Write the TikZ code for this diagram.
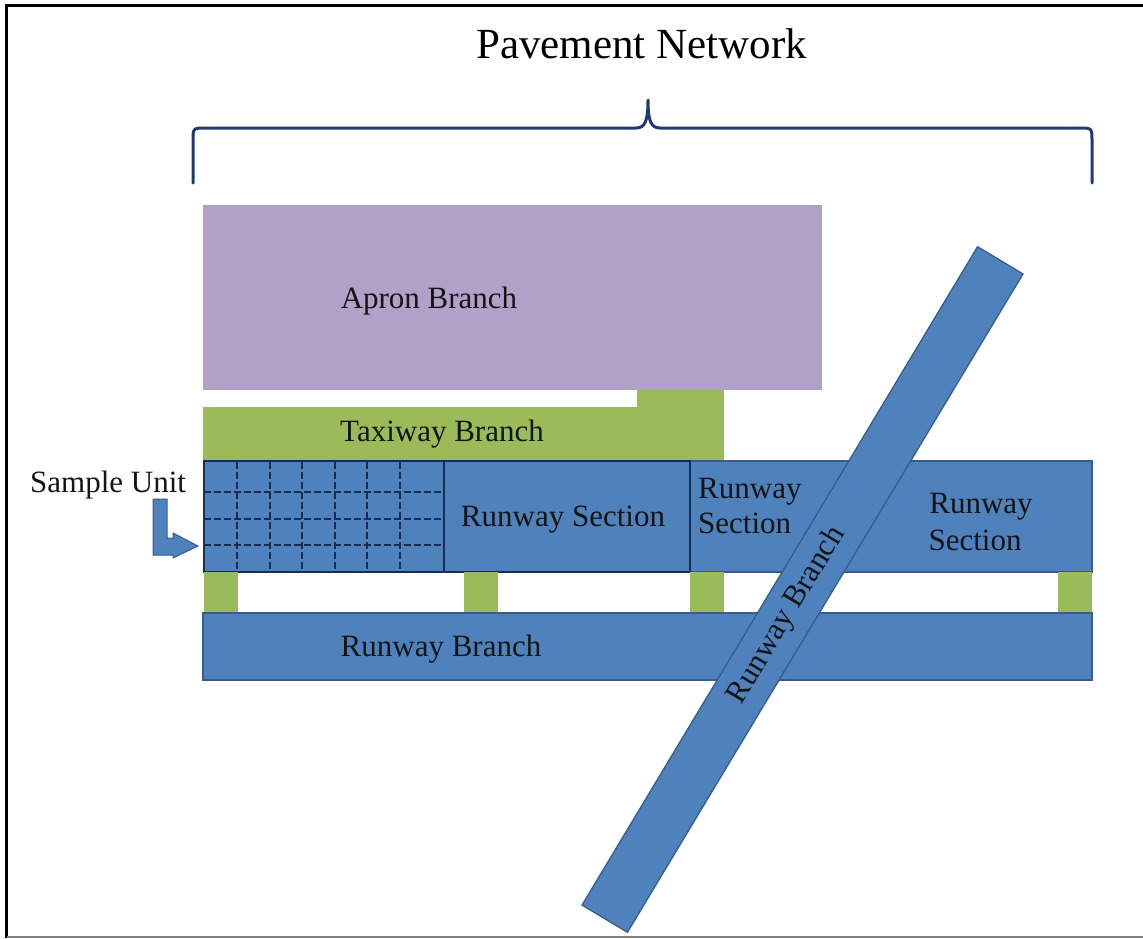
\documentclass[tikz,border=0pt]{standalone}
\usepackage{fontspec}
\setmainfont{Liberation Serif}
\definecolor{rwblue}{HTML}{4F81BD}
\definecolor{rwedge}{HTML}{385D8A}
\definecolor{navy}{HTML}{132F55}
\definecolor{apron}{HTML}{B1A0C7}
\definecolor{taxi}{HTML}{9BBB59}
\definecolor{bracec}{HTML}{1F3A6E}
\definecolor{ink}{HTML}{141414}
\tikzset{
  runway/.style={fill=rwblue, draw=rwedge, line width=1.3pt},
  sectionbox/.style={draw=navy, line width=2.4pt},
  taxifill/.style={fill=taxi},
  gridline/.style={draw=navy, line width=2pt, dash pattern=on 7pt off 3pt},
  lbl/.style={text=ink, font=\fontsize{31}{35}\selectfont, inner sep=0pt},
}
\begin{document}
\begin{tikzpicture}[x=1pt,y=-1pt]
\useasboundingbox (0,0) rectangle (1143,938);
% frame
\draw[line width=3pt] (6.5,938) -- (6.5,5.5) -- (1143,5.5);
\draw[gray, line width=2pt] (6.5,937) -- (1143,937);

% title and brace
\node[lbl, font=\fontsize{43}{48}\selectfont, text=black, anchor=base] (title) at (641.5,58) {Pavement Network};
\draw[bracec, line width=3pt, line cap=round, line join=round]
  (193,183) -- (193,141) .. controls (193,128) .. (206,128) -- (636,128)
  .. controls (645,128) and (648,121) .. (648,100)
  .. controls (648,121) and (651,128) .. (660,128) -- (1079,128)
  .. controls (1092,128) .. (1092,141) -- (1092,183);

% apron branch and its link to the taxiway
\fill[apron] (203,205) rectangle (822,390);
\node[lbl, anchor=base] (apronlbl) at (429,308) {Apron Branch};
\fill[taxifill] (637,390) rectangle (724,408);
\fill[taxifill] (203,407) rectangle (724,461);
\node[lbl, anchor=base] (taxilbl) at (442,441) {Taxiway Branch};

% runway section row
\filldraw[runway] (204,461) rectangle (1092,572);
% sample unit grid
\foreach \x in {237,270,302,335,367,400}
  \draw[gridline] (\x,462) -- (\x,572);
\foreach \y in {492,519,545}
  \draw[gridline] (204,\y) -- (444,\y);
\draw[sectionbox] (204,461) rectangle (444,572);
\draw[sectionbox] (444,461) rectangle (690,572);
\node[lbl, anchor=base] (sec1) at (563,526) {Runway Section};
\node[lbl, anchor=base west] (sec2a) at (698,498) {Runway};
\node[lbl, anchor=base west] (sec2b) at (698,533) {Section};
\node[lbl, anchor=base] (sec3a) at (981,513) {Runway};
\node[lbl, anchor=base] (sec3b) at (975,550) {Section};

% sample unit label and bent arrow
\node[lbl, anchor=base west] (sample) at (30,492) {Sample Unit};
\filldraw[fill=rwblue, draw=rwedge, line width=1pt]
  (153,499) -- (167,499) -- (167,538) -- (173,538) -- (173,533) -- (198,546)
  -- (173,558) -- (173,555) -- (153,555) -- cycle;

% taxiway links between the runway row and the lower runway branch
\foreach \x in {204,464,690,1058}
  \fill[taxifill] (\x,572) rectangle ++(34,41);

% lower runway branch
\filldraw[runway] (203,613) rectangle (1092,680);
\node[lbl, anchor=base] (rwlow) at (441,656) {Runway Branch};

% crossing runway branch
\begin{scope}[shift={(802.5,589.5)}, rotate=59]
  \filldraw[runway] (-384,-26.5) rectangle (384,26.5);
  \node[lbl, rotate=59] (rwdiag) at (-30,0) {Runway Branch};
\end{scope}
\end{tikzpicture}
\end{document}
